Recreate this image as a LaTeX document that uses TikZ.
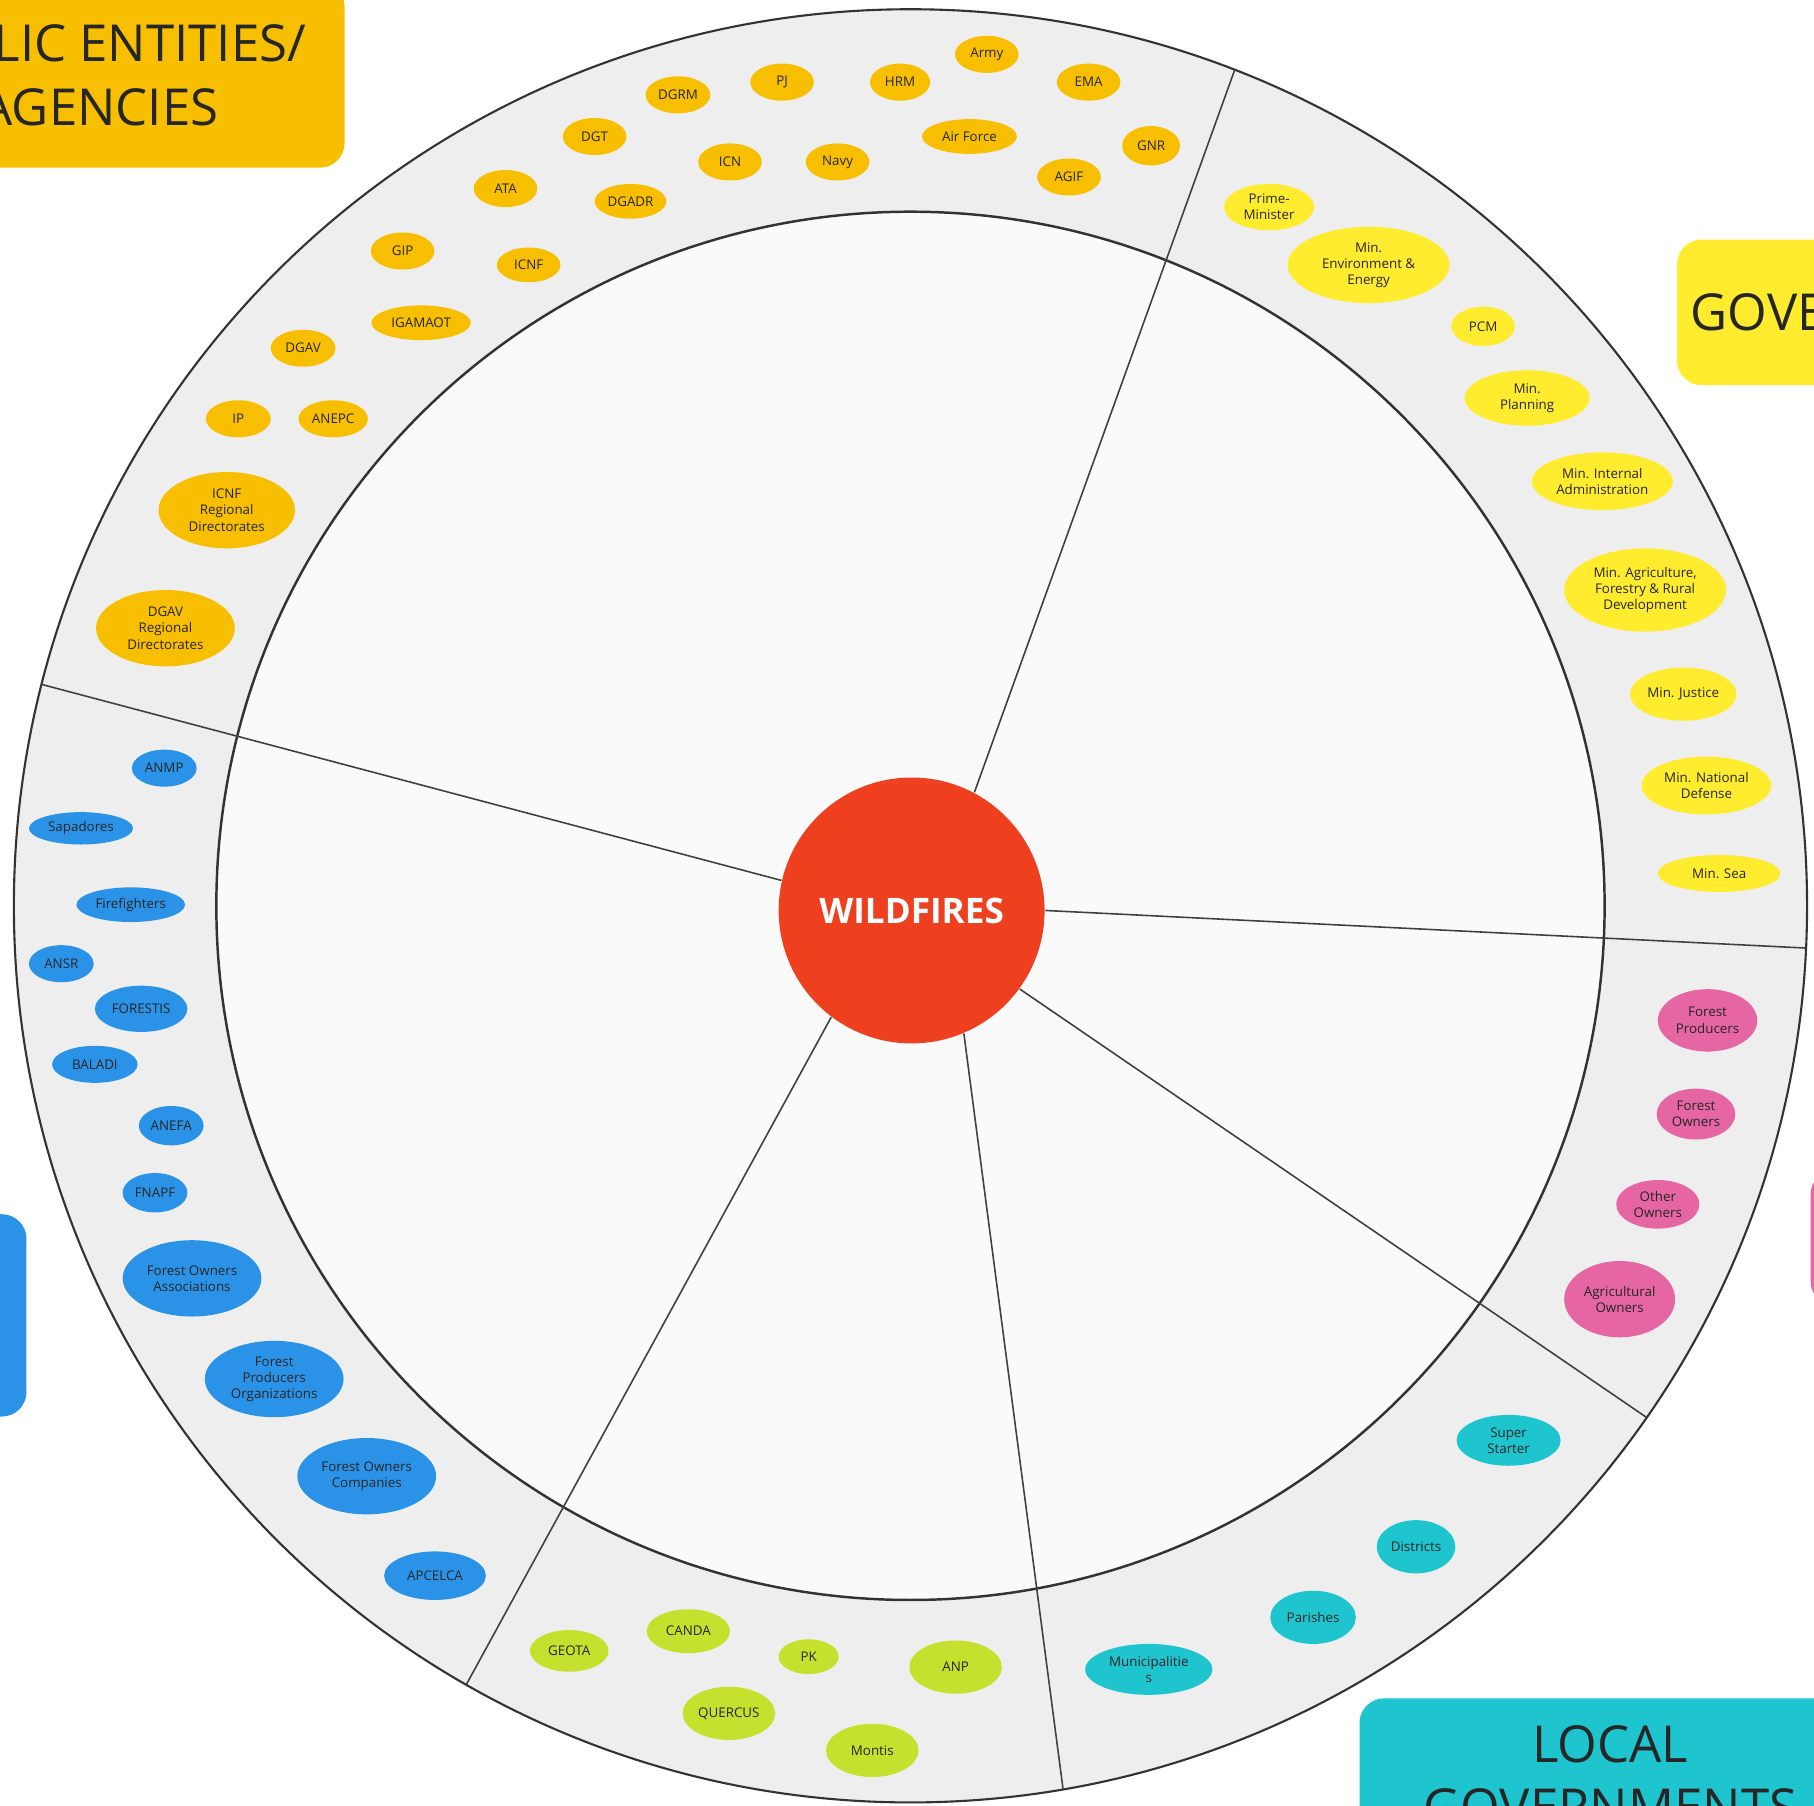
\documentclass[tikz,border=0pt]{standalone}
\usepackage{fontspec}
\setmainfont{Open Sans}
\usetikzlibrary{shapes.geometric}

\definecolor{pubcol}{RGB}{247,191,0}
\definecolor{govcol}{RGB}{255,236,46}
\definecolor{owncol}{RGB}{229,102,162}
\definecolor{loccol}{RGB}{30,196,206}
\definecolor{ngocol}{RGB}{197,224,45}
\definecolor{orgcol}{RGB}{42,147,232}
\definecolor{firecol}{RGB}{238,64,30}
\definecolor{ringcol}{RGB}{238,238,238}
\definecolor{corecol}{RGB}{250,250,250}

\begin{document}
\begin{tikzpicture}[x=0.1157mm,y=0.1157mm,
  ent/.style={ellipse,inner sep=0pt,align=center,text=black!85,font=\fontsize{3.8}{4.6}\selectfont},
  sz/.style 2 args={minimum width=#1*0.329pt,minimum height=#2*0.329pt},
  pub/.style={ent,fill=pubcol},
  gov/.style={ent,fill=govcol},
  own/.style={ent,fill=owncol},
  loc/.style={ent,fill=loccol},
  ngo/.style={ent,fill=ngocol},
  org/.style={ent,fill=orgcol},
  groupbox/.style={rectangle,rounded corners=7pt,inner sep=0pt,align=center,text=black!85,font=\fontsize{14.5}{18}\selectfont},
  divider/.style={draw=black!75,line width=0.45pt}]

% Page
\useasboundingbox (0,0) rectangle (1568,-1561);
\clip (0,0) rectangle (1568,-1561);
\fill[white] (0,0) rectangle (1568,-1561);

% Ring
\coordinate (c) at (787,-783);
\filldraw[fill=ringcol,draw=black!80,line width=0.6pt] (c) circle (775);
\filldraw[fill=corecol,draw=black!80,line width=0.7pt] (c) circle (600);

% Centre
\node[circle,fill=firecol,inner sep=0pt,minimum size=230*0.329pt,text=white,font=\fontsize{10}{12}\selectfont\bfseries] (fire) at (788,-787) {WILDFIRES};

% Sector dividers
\path (c) ++(68.8:775) coordinate (e1);
\path (c) ++(-2.7:775) coordinate (e2);
\path (c) ++(-34.8:775) coordinate (e3);
\path (c) ++(-80.2:775) coordinate (e4);
\path (c) ++(240.3:775) coordinate (e5);
\path (c) ++(165.7:775) coordinate (e6);
\draw[divider] (fire.62) -- (e1);
\draw[divider] (fire.0) -- (e2);
\draw[divider] (fire.-36.7) -- (e3);
\draw[divider] (fire.-67.8) -- (e4);
\draw[divider] (fire.233.9) -- (e5);
\draw[divider] (fire.167.8) -- (e6);

% Public entities / agencies
\node[pub,sz={55}{32}] (army) at (853,-47) {Army};
\node[pub,sz={55}{32}] (ema) at (941,-71) {EMA};
\node[pub,sz={50}{34}] (gnr) at (995,-126) {GNR};
\node[pub,sz={55}{32}] (agif) at (924,-153) {AGIF};
\node[pub,sz={82}{30}] (airforce) at (838,-118) {Air Force};
\node[pub,sz={52}{32}] (hrm) at (778,-71) {HRM};
\node[pub,sz={55}{32}] (pj) at (676,-71) {PJ};
\node[pub,sz={56}{32}] (dgrm) at (586,-82) {DGRM};
\node[pub,sz={55}{32}] (dgt) at (514,-118) {DGT};
\node[pub,sz={55}{32}] (icn) at (631,-140) {ICN};
\node[pub,sz={55}{32}] (navy) at (724,-140) {Navy};
\node[pub,sz={55}{32}] (ata) at (437,-163) {ATA};
\node[pub,sz={62}{30}] (dgadr) at (545,-174) {DGADR};
\node[pub,sz={55}{32}] (gip) at (348,-217) {GIP};
\node[pub,sz={55}{30}] (icnf) at (457,-229) {ICNF};
\node[pub,sz={86}{30}] (igamaot) at (364,-279) {IGAMAOT};
\node[pub,sz={56}{32}] (dgav) at (262,-301) {DGAV};
\node[pub,sz={56}{32}] (ip) at (206,-362) {IP};
\node[pub,sz={60}{32}] (anepc) at (288,-362) {ANEPC};
\node[pub,sz={118}{66}] (icnfreg) at (196,-441) {ICNF\\Regional\\Directorates};
\node[pub,sz={120}{66}] (dgavreg) at (143,-543) {DGAV\\Regional\\Directorates};

% Government
\node[gov,sz={78}{40}] (pm) at (1097,-179) {Prime-\\Minister};
\node[gov,sz={140}{66}] (minenv) at (1183,-229) {Min.\\Environment \&\\Energy};
\node[gov,sz={55}{34}] (pcm) at (1282,-282) {PCM};
\node[gov,sz={108}{48}] (minplan) at (1320,-344) {Min.\\Planning};
\node[gov,sz={122}{50}] (minint) at (1385,-416) {Min. Internal\\Administration};
\node[gov,sz={140}{72}] (minagr) at (1422,-510) {Min. Agriculture,\\Forestry \& Rural\\Development};
\node[gov,sz={92}{46}] (minjus) at (1455,-600) {Min. Justice};
\node[gov,sz={112}{50}] (minnat) at (1475,-679) {Min. National\\Defense};
\node[gov,sz={106}{32}] (minsea) at (1486,-755) {Min. Sea};

% Owners
\node[own,sz={86}{54}] (forprod) at (1476,-882) {Forest\\Producers};
\node[own,sz={68}{44}] (forown) at (1466,-963) {Forest\\Owners};
\node[own,sz={72}{42}] (othown) at (1433,-1041) {Other\\Owners};
\node[own,sz={96}{66}] (agrown) at (1400,-1123) {Agricultural\\Owners};

% Local governments
\node[loc,sz={90}{44}] (super) at (1304,-1245) {Super\\Starter};
\node[loc,sz={68}{46}] (districts) at (1224,-1337) {Districts};
\node[loc,sz={74}{46}] (parishes) at (1135,-1398) {Parishes};
\node[loc,sz={110}{44}] (munic) at (993,-1443) {Municipalitie\\s};

% NGOs
\node[ngo,sz={68}{36}] (geota) at (492,-1427) {GEOTA};
\node[ngo,sz={72}{38}] (canda) at (595,-1410) {CANDA};
\node[ngo,sz={52}{30}] (pk) at (699,-1432) {PK};
\node[ngo,sz={80}{46}] (anp) at (826,-1441) {ANP};
\node[ngo,sz={80}{46}] (quercus) at (630,-1481) {QUERCUS};
\node[ngo,sz={80}{46}] (montis) at (754,-1513) {Montis};

% Organisations
\node[org,sz={56}{32}] (anmp) at (142,-664) {ANMP};
\node[org,sz={90}{28}] (sapadores) at (70,-716) {Sapadores};
\node[org,sz={94}{30}] (firefighters) at (113,-782) {Firefighters};
\node[org,sz={56}{32}] (ansr) at (53,-833) {ANSR};
\node[org,sz={80}{40}] (forestis) at (122,-872) {FORESTIS};
\node[org,sz={74}{32}] (baladi) at (82,-920) {BALADI};
\node[org,sz={56}{34}] (anefa) at (148,-973) {ANEFA};
\node[org,sz={56}{34}] (fnapf) at (134,-1031) {FNAPF};
\node[org,sz={120}{66}] (foassoc) at (166,-1105) {Forest Owners\\Associations};
\node[org,sz={120}{66}] (fporg) at (237,-1192) {Forest\\Producers\\Organizations};
\node[org,sz={120}{66}] (focomp) at (317,-1276) {Forest Owners\\Companies};
\node[org,sz={88}{42}] (apcelca) at (376,-1362) {APCELCA};

% Group labels
\node[groupbox,fill=pubcol,minimum width=424*0.329pt,minimum height=160*0.329pt] (pubbox) at (86,-65) {PUBLIC ENTITIES/\\AGENCIES};
\node[groupbox,fill=govcol,minimum width=323*0.329pt,minimum height=126*0.329pt] (govbox) at (1611,-270) {GOVERNMENT};
\node[groupbox,fill=loccol,minimum width=434*0.329pt,minimum height=134*0.329pt] (locbox) at (1392,-1535) {LOCAL\\GOVERNMENTS};
\node[groupbox,fill=orgcol,minimum width=346*0.329pt,minimum height=175*0.329pt] (orgbox) at (-150,-1137) {};
\node[groupbox,fill=owncol,minimum width=340*0.329pt,minimum height=118*0.329pt] (ownbox) at (1735,-1070) {};
\end{tikzpicture}
\end{document}
